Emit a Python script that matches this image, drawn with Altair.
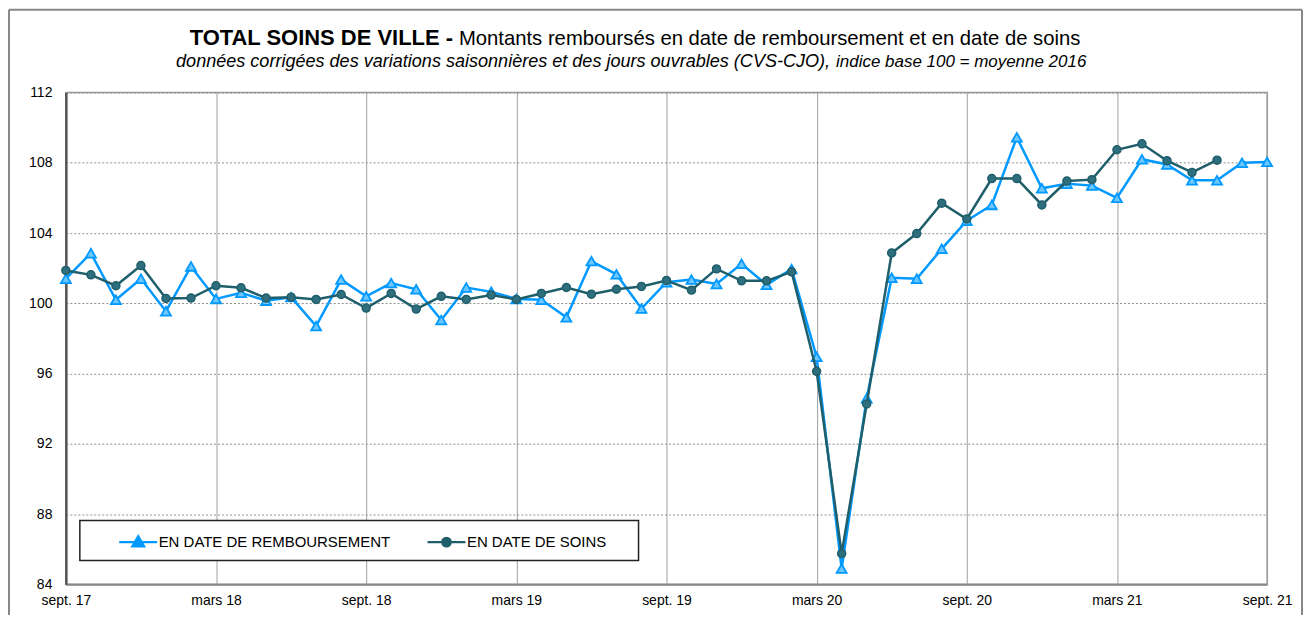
import json
import altair as alt
import pandas as pd

# ---- data -------------------------------------------------------------
tick_labels = ["sept. 17", "mars 18", "sept. 18", "mars 19", "sept. 19",
               "mars 20", "sept. 20", "mars 21", "sept. 21"]

serie_names = ["EN DATE DE REMBOURSEMENT", "EN DATE DE SOINS"]

# monthly values, sept. 2017 -> sept. 2021
rembours = [101.4, 102.85, 100.2, 101.4, 99.55, 102.1, 100.25, 100.6, 100.15, 100.35,
            98.7, 101.35, 100.4, 101.15, 100.8, 99.05, 100.9, 100.65, 100.25, 100.2,
            99.2, 102.4, 101.65, 99.7, 101.2, 101.35, 101.1, 102.25, 101.05, 101.95,
            96.95, 84.9, 94.6, 101.45, 101.4, 103.1, 104.7, 105.6, 109.45, 106.55,
            106.8, 106.7, 106.0, 108.2, 107.9, 107.0, 107.0, 108.0, 108.05]

soins = [101.87, 101.62, 101.0, 102.15, 100.28, 100.3, 101.0, 100.88, 100.3, 100.35,
         100.22, 100.5, 99.73, 100.56, 99.67, 100.4, 100.22, 100.47, 100.22, 100.56,
         100.9, 100.52, 100.8, 100.96, 101.3, 100.75, 101.96, 101.28, 101.28, 101.79,
         96.13, 85.75, 94.27, 102.87, 103.97, 105.7, 104.8, 107.1, 107.1, 105.6,
         106.96, 107.04, 108.74, 109.08, 108.12, 107.45, 108.15]

rows = []
for i, v in enumerate(rembours):
    rows.append({"m": i, "val": v, "serie": serie_names[0]})
for i, v in enumerate(soins):
    rows.append({"m": i, "val": v, "serie": serie_names[1]})
df = pd.DataFrame(rows)
one = pd.DataFrame({"k": [0]})

BLUE = "#0099FF"
DARK = "#1F5E6B"
FONT = "Liberation Sans"

TRI = "M-1,0H1M0,-0.3L0.3,0.22L-0.3,0.22Z"
CIRC = "M-1,0H1M0.22,0A0.22,0.22 0 1,1 -0.22,0A0.22,0.22 0 1,1 0.22,0"

label_expr = json.dumps(tick_labels) + "[round(datum.value / 6)]"

x_enc = alt.X("m:Q", scale=alt.Scale(domain=[0, 48], nice=False, zero=False),
              axis=alt.Axis(values=list(range(0, 49, 6)), labelExpr=label_expr,
                            title=None, ticks=False, tickSize=0, labelPadding=9,
                            labelFontSize=14, labelFont=FONT, labelColor="black",
                            domainColor="#888888", domainWidth=2,
                            grid=True, gridColor="#A0A0A0", gridWidth=1,
                            labelFlush=False))
y_enc = alt.Y("val:Q", scale=alt.Scale(domain=[84, 112], nice=False, zero=False),
              axis=alt.Axis(values=list(range(84, 113, 4)), title=None, ticks=False,
                            tickSize=0, labelPadding=14, labelFontSize=14, labelFont=FONT,
                            labelColor="black", domainColor="#555555", domainWidth=2.5,
                            grid=True, gridColor="#909090", gridDash=[2, 2], gridWidth=1))

sym_sig = "datum.value === '%s' ? '%s' : '%s'" % (serie_names[1], CIRC, TRI)
col_sig = "datum.value === '%s' ? '%s' : '%s'" % (serie_names[1], DARK, BLUE)

color_enc = alt.Color("serie:N",
                      scale=alt.Scale(domain=serie_names, range=[BLUE, DARK]),
                      legend=alt.Legend(title=None, orient="none", legendX=52, legendY=430,
                                        direction="horizontal", symbolSize=1444,
                                        symbolStrokeWidth=2.5,
                                        symbolType={"expr": sym_sig},
                                        symbolFillColor={"expr": col_sig},
                                        symbolStrokeColor={"expr": col_sig},
                                        labelFontSize=15, labelFont=FONT, labelColor="black",
                                        labelLimit=500,
                                        labelOffset=0, columnPadding=31, padding=0))

# ---- decorations ---------------------------------------------------------
frame_left = alt.Chart(one).mark_rule(color="#888888", strokeWidth=2).encode(
    x=alt.value(-57), y=alt.value(-83), y2=alt.value(560))
frame_top = alt.Chart(one).mark_rule(color="#888888", strokeWidth=2).encode(
    x=alt.value(-57), x2=alt.value(1239), y=alt.value(-83))
frame_right = alt.Chart(one).mark_rule(color="#888888", strokeWidth=2).encode(
    x=alt.value(1239), y=alt.value(-83), y2=alt.value(560))

legend_box = alt.Chart(one).mark_rect(fill="white", stroke="#222222", strokeWidth=1.5).encode(
    x=alt.value(14), x2=alt.value(574), y=alt.value(429), y2=alt.value(469))

t_bold = alt.Chart(one).mark_text(text="TOTAL SOINS DE VILLE -", font=FONT, fontSize=22,
                                  fontWeight="bold", align="right", baseline="alphabetic",
                                  color="black").encode(x=alt.value(388), y=alt.value(-48))
t_reg = alt.Chart(one).mark_text(text="Montants remboursés en date de remboursement et en date de soins",
                                 font=FONT, fontSize=20.3, align="left", baseline="alphabetic",
                                 color="black").encode(x=alt.value(394), y=alt.value(-48))
t_subA = alt.Chart(one).mark_text(text="données corrigées des variations saisonnières et des jours ouvrables (CVS-CJO),",
                                  font=FONT, fontSize=18.1, fontStyle="italic", align="right",
                                  baseline="alphabetic", color="black").encode(x=alt.value(766), y=alt.value(-26))
t_subB = alt.Chart(one).mark_text(text="indice base 100 = moyenne 2016",
                                  font=FONT, fontSize=17, fontStyle="italic", align="left",
                                  baseline="alphabetic", color="black").encode(x=alt.value(772), y=alt.value(-26))

# ---- series -----------------------------------------------------------------
base = alt.Chart(df)
line_r = base.transform_filter(alt.datum.serie == serie_names[0]).mark_line(strokeWidth=2.5).encode(
    x=x_enc, y=y_enc, color=color_enc)
pts_r = base.transform_filter(alt.datum.serie == serie_names[0]).mark_point(
    shape="triangle-up", size=100, filled=True, fill="#6CC6FF", stroke=BLUE, strokeWidth=1.8,
    opacity=1).encode(x="m:Q", y="val:Q")
line_s = base.transform_filter(alt.datum.serie == serie_names[1]).mark_line(strokeWidth=2.5).encode(
    x="m:Q", y="val:Q", color=color_enc)
pts_s = base.transform_filter(alt.datum.serie == serie_names[1]).mark_point(
    shape="circle", size=64, filled=True, fill="#2F6E7C", stroke=DARK, strokeWidth=1.5,
    opacity=1).encode(x="m:Q", y="val:Q")

chart = alt.layer(
    frame_left, frame_top, frame_right,
    line_r, pts_r, line_s, pts_s,
    legend_box,
    t_bold, t_reg, t_subA, t_subB,
).properties(
    width=1204, height=493,
    padding={"left": 58, "top": 84, "right": 36, "bottom": 30},
    autosize=alt.AutoSizeParams(type="none"),
    background="white",
).configure_view(stroke="#999999", strokeWidth=1.5)

chart.save("out.html", embed_options={"renderer": "svg", "actions": False})
